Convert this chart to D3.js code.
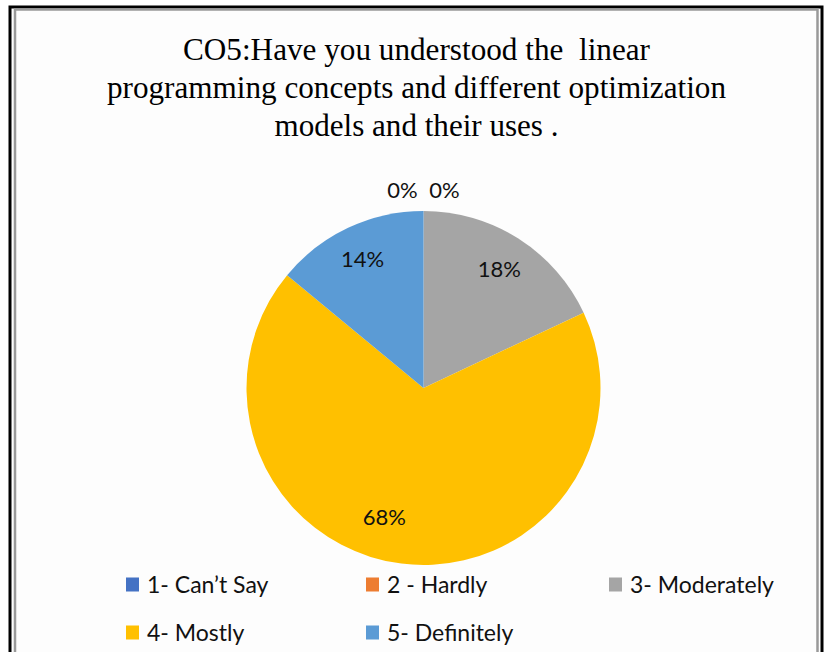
<!DOCTYPE html>
<html><head><meta charset="utf-8">
<script src="https://cdn.jsdelivr.net/npm/d3@7"></script>
<style>html,body{margin:0;padding:0;background:#fff;}svg{display:block;}</style>
</head><body>
<script>
const categories = ["1- Can\u2019t Say", "2 - Hardly", "3- Moderately", "4- Mostly", "5- Definitely"];
const values = [0, 0, 18, 68, 14];
const labels = ["0%", "0%", "18%", "68%", "14%"];
const colors = ["#4472C4", "#ED7D31", "#A5A5A5", "#FFC000", "#5B9BD5"];
const titleLines = ["CO5:Have you understood the  linear", "programming concepts and different optimization", "models and their uses ."];

const W = 827, H = 652;
const svg = d3.select("body").append("svg").attr("width", W).attr("height", H);

// frame
svg.append("rect").attr("x", 10).attr("y", 7).attr("width", 812).attr("height", 660)
  .attr("fill", "#fdfdfd").attr("stroke", "#000").attr("stroke-width", 3);
svg.append("rect").attr("x", 15).attr("y", 9.5).attr("width", 802.5).attr("height", 660)
  .attr("fill", "none").attr("stroke", "#999").attr("stroke-width", 2.5);

// title
const titleWidths = [467, 619, 284];
svg.append("g").selectAll("text").data(titleLines).join("text")
  .attr("x", 416.5).attr("y", (d, i) => 59.5 + i * 38)
  .attr("text-anchor", "middle")
  .style("white-space", "pre")
  .attr("font-family", "'Liberation Serif', 'Times New Roman', serif")
  .attr("font-size", 32).attr("fill", "#000")
  .attr("textLength", (d, i) => titleWidths[i]).attr("lengthAdjust", "spacingAndGlyphs")
  .text(d => d);

// pie
const cx = 423.5, cy = 388, R = 177;
const pie = d3.pie().sort(null).value(d => d)(values);
const arc = d3.arc().innerRadius(0).outerRadius(R);
const g = svg.append("g").attr("transform", `translate(${cx},${cy})`);
g.selectAll("path").data(pie).join("path")
  .attr("d", arc).attr("fill", (d, i) => colors[i]);

// labels
const labelShift = [0, 0, 0, 0.17, 0];
const labelRadius = [1, 1, 0.8, 0.76, 0.81];
let zeroCount = 0;
const zeroOffsets = [-21, 21];
g.selectAll("text.lbl").data(pie).join("text").attr("class", "lbl")
  .each(function(d, i) {
    let x, y;
    if (d.value === 0) {
      x = zeroOffsets[zeroCount++]; y = -R - 22;
    } else {
      const a = (d.startAngle + d.endAngle) / 2 + labelShift[i];
      const r = R * labelRadius[i];
      x = Math.sin(a) * r; y = -Math.cos(a) * r;
    }
    d3.select(this).attr("x", x).attr("y", y);
  })
  .attr("text-anchor", "middle").attr("dominant-baseline", "central")
  .attr("font-family", "Lato, 'Open Sans', sans-serif").attr("font-size", 22).attr("fill", "#111")
  .text((d, i) => labels[i]);

// legend
const legX = [126, 366, 609], legY = [584, 632];
const leg = svg.append("g").selectAll("g").data(categories).join("g")
  .attr("transform", (d, i) => `translate(${legX[i % 3]},${legY[Math.floor(i / 3)]})`);
leg.append("rect").attr("x", 0).attr("y", -6.5).attr("width", 13).attr("height", 14)
  .attr("fill", (d, i) => colors[i]);
leg.append("text").attr("x", 21).attr("y", 0).attr("dominant-baseline", "central")
  .attr("font-family", "Lato, 'Open Sans', sans-serif").attr("font-size", 23).attr("fill", "#111")
  .text(d => d);
</script>
</body></html>
